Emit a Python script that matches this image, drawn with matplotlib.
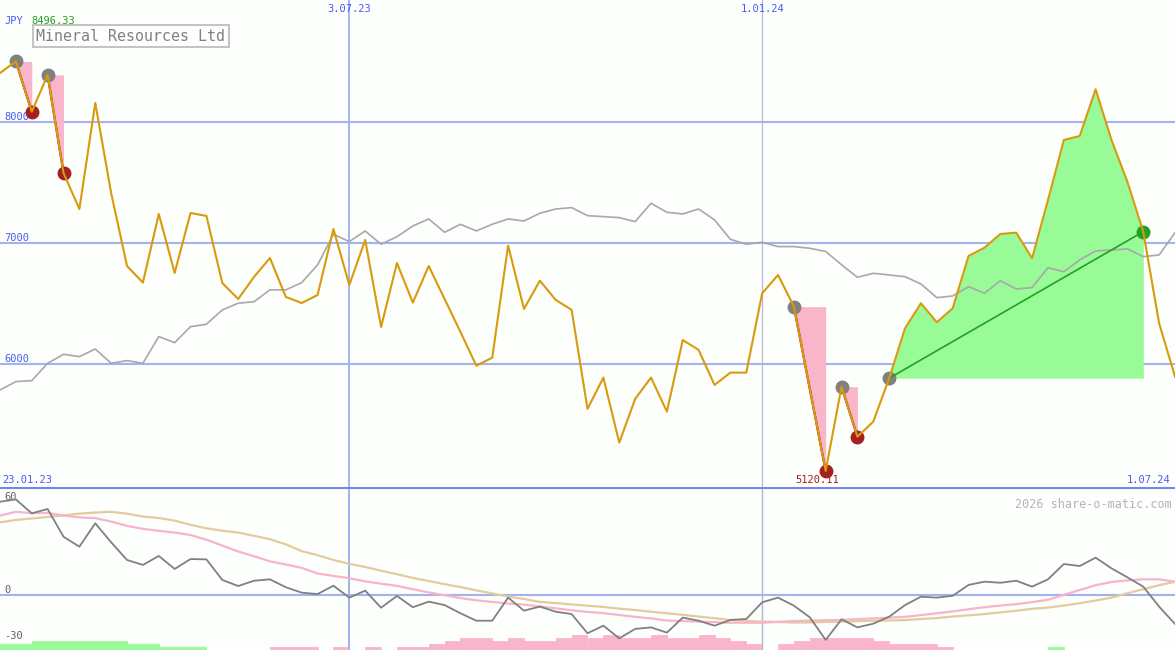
import matplotlib
matplotlib.use("Agg")
import matplotlib.pyplot as plt
import matplotlib.dates as mdates
import numpy as np
import pandas as pd

# weekly closes (JPY)
dates = pd.date_range("2023-01-30", periods=75, freq="7D")
price = [8401, 8496.33, 8082, 8385, 7577, 7280, 8154, 7412, 6810, 6673,
         7239, 6753, 7247, 7223, 6670, 6538, 6720, 6876, 6555, 6505,
         6571, 7115, 6654, 7025, 6307, 6835, 6508, 6810, 6538, 6266,
         5988, 6054, 6978, 6456, 6689, 6530, 6448, 5632, 5890, 5354,
         5714, 5890, 5609, 6200, 6118, 5829, 5931, 5931, 6585, 6736,
         6475, 5800, 5120.11, 5815, 5403, 5527, 5885, 6297, 6503, 6346,
         6462, 6893, 6961, 7074, 7085, 6874, 7354, 7849, 7882, 8267,
         7849, 7505, 7093, 6338, 5898]
avg = [5788, 5857, 5865, 6008, 6082, 6063, 6126, 6008, 6030, 6008,
       6228, 6178, 6310, 6330, 6448, 6503, 6516, 6613, 6613, 6673,
       6819, 7072, 7011, 7099, 6989, 7052, 7140, 7198, 7088, 7154,
       7099, 7154, 7198, 7181, 7245, 7280, 7291, 7225, 7217, 7209,
       7176, 7327, 7253, 7239, 7280, 7190, 7030, 6989, 7006, 6970,
       6970, 6956, 6930, 6820, 6717, 6750, 6736, 6722, 6662, 6549,
       6563, 6640, 6585, 6689, 6621, 6632, 6796, 6763, 6860, 6934,
       6942, 6951, 6887, 6901, 7085]

# oscillator panel
osc = [60.2, 61.7, 52.7, 55.5, 37.6, 31.2, 46.3, 34.0, 22.6, 19.4,
       25.2, 16.8, 23.2, 23.0, 9.7, 5.8, 9.2, 10.1, 5.0, 1.5,
       0.6, 6.0, -1.7, 2.8, -8.2, -0.6, -7.9, -4.3, -6.5, -11.8,
       -16.6, -16.6, -1.7, -10.1, -7.5, -10.8, -12.3, -24.7, -19.8, -28.0,
       -21.9, -20.9, -24.3, -14.6, -16.6, -19.8, -16.1, -15.5, -4.7, -1.7,
       -6.9, -14.4, -29.0, -15.7, -20.9, -18.5, -14.0, -6.5, -1.1, -1.7,
       -0.5, 6.5, 8.6, 7.9, 9.2, 5.4, 10.1, 20.0, 18.7, 24.1,
       17.2, 11.4, 5.4, -7.5, -18.7]
osc_fast = [51.2, 53.7, 52.8, 53.0, 51.3, 50.1, 49.6, 47.4, 44.6, 42.7,
            41.4, 40.3, 38.7, 35.7, 31.9, 28.1, 25.0, 21.7, 19.7, 17.5,
            13.9, 12.3, 10.8, 8.8, 7.3, 5.9, 3.7, 1.7, -0.2, -2.0,
            -3.4, -4.5, -5.5, -6.2, -7.4, -8.6, -9.9, -10.9, -11.7, -12.9,
            -14.1, -15.1, -16.5, -16.8, -17.2, -17.5, -17.9, -17.9, -17.9, -17.4,
            -16.8, -16.5, -16.3, -16.1, -15.6, -15.1, -14.6, -14.1, -13.0, -11.8,
            -10.6, -9.2, -7.9, -6.8, -5.9, -4.6, -3.1, 0.1, 3.2, 6.3,
            8.4, 9.4, 10.1, 10.1, 8.6]
osc_slow = [46.9, 48.4, 49.4, 50.3, 51.4, 52.5, 53.2, 53.7, 52.5, 50.6,
            49.7, 48.0, 45.3, 43.0, 41.5, 40.3, 38.2, 36.0, 32.7, 28.3,
            25.7, 22.6, 20.1, 18.1, 15.7, 13.4, 11.0, 9.0, 7.0, 5.1,
            3.0, 1.0, -1.0, -2.6, -4.5, -5.2, -6.1, -6.9, -7.7, -8.8,
            -9.7, -10.8, -11.8, -12.8, -13.9, -15.0, -16.1, -16.7, -17.2, -17.4,
            -17.8, -17.7, -17.4, -17.2, -16.9, -16.6, -16.4, -16.2, -15.5, -14.9,
            -13.9, -13.1, -12.3, -11.2, -10.2, -8.9, -8.1, -6.8, -5.3, -3.6,
            -1.7, 1.1, 3.7, 6.3, 8.6]
# signal strength bars (+ green, - pink)
hist = [2, 2, 3, 3, 3, 3, 3, 3, 2, 2,
        1, 1, 1, 0, 0, 0, 0, -1, -1, -1,
        0, -1, 0, -1, 0, -1, -1, -2, -3, -4,
        -4, -3, -4, -3, -3, -4, -5, -4, -5, -4,
        -4, -5, -4, -4, -5, -4, -3, -2, 0, -2,
        -3, -4, -4, -4, -4, -3, -2, -2, -2, -1,
        0, 0, 0, 0, 0, 0, 1, 0, 0, 0,
        0, 0, 0, 0, 0]

falls = [(1, 2), (3, 4), (50, 52), (53, 54)]
rise = (56, 72)
title = "Mineral Resources Ltd"

BG = "#FCFFFC"
GRID = "#A4B2F2"
BLUE = "#4A5AF0"
MONO = "DejaVu Sans Mono"

price = np.array(price)
xd = mdates.date2num(dates)
fig = plt.figure(figsize=(11.75, 6.5), dpi=100, facecolor=BG)
ax = fig.add_axes([0, 163 / 650, 1, 487 / 650], facecolor=BG)
axh = fig.add_axes([0, 0, 1, 163 / 650], facecolor=BG)
ax2 = fig.add_axes([0, 0, 1, 163 / 650], facecolor="none")

x0 = mdates.date2num(pd.Timestamp("2023-01-30"))
vl1 = mdates.date2num(pd.Timestamp("2023-07-03"))
vl2 = mdates.date2num(pd.Timestamp("2024-01-01"))
for a in (ax, axh, ax2):
    a.set_xlim(x0, x0 + 518)
    a.set_xticks([])
    a.set_yticks([])
    for s in a.spines.values():
        s.set_visible(False)
    a.axvline(vl1, color=GRID, lw=1.4, zorder=1)
    a.axvline(vl2, color="#B4B8DC", lw=0.9, zorder=1)

# ---- main price panel
ax.set_ylim(4988, 9003)
for lvl in (6000, 7000, 8000):
    ax.axhline(lvl, color=GRID, lw=1.5, zorder=1)
    ax.text(0.004, lvl, str(lvl), transform=ax.get_yaxis_transform(),
            color=BLUE, fontsize=7.5, family=MONO, va="bottom")

ax.plot(xd, avg, color="#A8A8A8", lw=1.2, zorder=3)

for p, t in falls:
    ax.fill_between(xd[p:t + 1], price[p:t + 1], price[p],
                    color="#F9B6CA", lw=0, zorder=2)
    ax.plot([xd[p], xd[t]], [price[p], price[t]], color="#A01E1E", lw=1.6, zorder=3)
p, t = rise
ax.fill_between(xd[p:t + 1], price[p:t + 1], price[p], color="#98FB98", lw=0, zorder=2)
ax.plot([xd[p], xd[t]], [price[p], price[t]], color="#22A022", lw=1.2, zorder=3.6)

peaks = [f[0] for f in falls] + [rise[0]]
lows = [f[1] for f in falls]
ax.plot(xd[peaks], price[peaks], "o", color="#808080", ms=9, zorder=3.5)
ax.plot(xd[lows], price[lows], "o", color="#A52020", ms=9, zorder=3.5)
ax.plot(xd[rise[1]], price[rise[1]], "o", color="#22A022", ms=9, zorder=3.5)

ax.plot(xd, price, color="#D99A0E", lw=1.5, zorder=4)

# labels
ax.text(0.004, 0.957, "JPY", transform=ax.transAxes, color=BLUE,
        fontsize=7.5, family=MONO, va="center")
ax.text(0.027, 0.957, f"{price.max():.2f}", transform=ax.transAxes, color="#20A020",
        fontsize=7.5, family=MONO, va="center")
ax.text(0.031, 0.926, title, transform=ax.transAxes, color="#808080", fontsize=10.8,
        family=MONO, va="center",
        bbox=dict(boxstyle="square,pad=0.22", fc="none", ec="#C4C4C4", lw=1.5))
for d, s in [(vl1, "3.07.23"), (vl2, "1.01.24")]:
    ax.text(d, 0.9815, s, transform=ax.get_xaxis_transform(),
            color=BLUE, fontsize=7.5, family=MONO, ha="center", va="center")
ax.text(0.002, 0.004, "23.01.23", transform=ax.transAxes, color=BLUE,
        fontsize=7.5, family=MONO, va="bottom")
ax.text(0.996, 0.004, "1.07.24", transform=ax.transAxes, color=BLUE,
        fontsize=7.5, family=MONO, va="bottom", ha="right")
imin = int(price.argmin())
ax.annotate(f"{price[imin]:.2f}", xy=(xd[imin], 0), xycoords=ax.get_xaxis_transform(),
            xytext=(-6, 1.5), textcoords="offset points", color="#A01E1E",
            fontsize=7.5, family=MONO, ha="center", va="bottom")

# ---- lower panel
axh.set_ylim(0, 163 / 3)
hist = np.array(hist)
cols = np.where(hist > 0, "#98FB98", "#F9B6CA")
axh.bar(xd, np.abs(hist), width=7, align="edge", color=cols, edgecolor=cols,
        lw=0.6, zorder=2)

ax2.set_ylim(-35.5, 69.7)
ax2.axhline(0, color=GRID, lw=1.5, zorder=1)
ax2.axhline(69.7, color="#7484F0", lw=2.2, zorder=1)
ax2.plot(xd, osc_slow, color="#E2CC9C", lw=1.6, zorder=3)
ax2.plot(xd, osc_fast, color="#F8B4CA", lw=1.6, zorder=3)
ax2.plot(xd, osc, color="#808080", lw=1.3, zorder=4)
for v in (60, 0, -30):
    ax2.text(0.004, v, str(v), transform=ax2.get_yaxis_transform(), color="#606060",
             fontsize=7.5, family=MONO, va="bottom")
ax2.text(0.997, 0.93, "2026 share-o-matic.com", transform=ax2.transAxes,
         color="#B4B4B4", fontsize=8.5, family=MONO, ha="right", va="top")

fig.savefig("out.png", dpi=100, facecolor=BG)
